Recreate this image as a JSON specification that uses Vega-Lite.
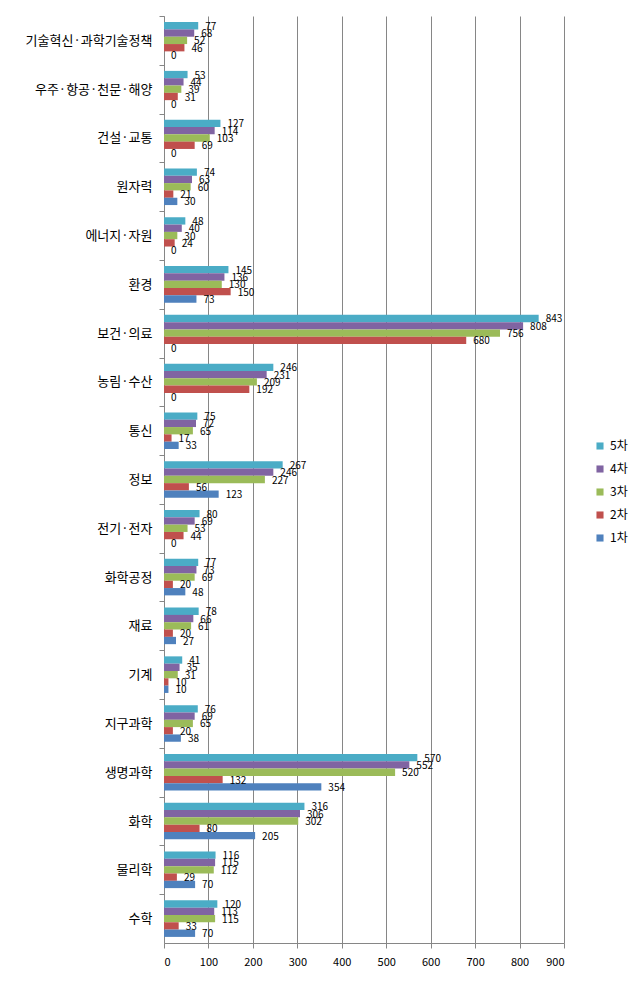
{
  "$schema": "https://vega.github.io/schema/vega-lite/v6.json",
  "width": 400,
  "height": 927,
  "autosize": {"type": "none"},
  "padding": {"left": 164, "top": 16, "right": 77, "bottom": 45},
  "background": "white",
  "config": {"view": {"stroke": null}, "font": "Noto Sans CJK KR"},
  "data": {"values": [
    {"c":"기술혁신·과학기술정책","s":"5차","v":77},{"c":"기술혁신·과학기술정책","s":"4차","v":68},{"c":"기술혁신·과학기술정책","s":"3차","v":52},{"c":"기술혁신·과학기술정책","s":"2차","v":46},{"c":"기술혁신·과학기술정책","s":"1차","v":0},
    {"c":"우주·항공·천문·해양","s":"5차","v":53},{"c":"우주·항공·천문·해양","s":"4차","v":44},{"c":"우주·항공·천문·해양","s":"3차","v":39},{"c":"우주·항공·천문·해양","s":"2차","v":31},{"c":"우주·항공·천문·해양","s":"1차","v":0},
    {"c":"건설·교통","s":"5차","v":127},{"c":"건설·교통","s":"4차","v":114},{"c":"건설·교통","s":"3차","v":103},{"c":"건설·교통","s":"2차","v":69},{"c":"건설·교통","s":"1차","v":0},
    {"c":"원자력","s":"5차","v":74},{"c":"원자력","s":"4차","v":63},{"c":"원자력","s":"3차","v":60},{"c":"원자력","s":"2차","v":21},{"c":"원자력","s":"1차","v":30},
    {"c":"에너지·자원","s":"5차","v":48},{"c":"에너지·자원","s":"4차","v":40},{"c":"에너지·자원","s":"3차","v":30},{"c":"에너지·자원","s":"2차","v":24},{"c":"에너지·자원","s":"1차","v":0},
    {"c":"환경","s":"5차","v":145},{"c":"환경","s":"4차","v":136},{"c":"환경","s":"3차","v":130},{"c":"환경","s":"2차","v":150},{"c":"환경","s":"1차","v":73},
    {"c":"보건·의료","s":"5차","v":843},{"c":"보건·의료","s":"4차","v":808},{"c":"보건·의료","s":"3차","v":756},{"c":"보건·의료","s":"2차","v":680},{"c":"보건·의료","s":"1차","v":0},
    {"c":"농림·수산","s":"5차","v":246},{"c":"농림·수산","s":"4차","v":231},{"c":"농림·수산","s":"3차","v":209},{"c":"농림·수산","s":"2차","v":192},{"c":"농림·수산","s":"1차","v":0},
    {"c":"통신","s":"5차","v":75},{"c":"통신","s":"4차","v":72},{"c":"통신","s":"3차","v":65},{"c":"통신","s":"2차","v":17},{"c":"통신","s":"1차","v":33},
    {"c":"정보","s":"5차","v":267},{"c":"정보","s":"4차","v":246},{"c":"정보","s":"3차","v":227},{"c":"정보","s":"2차","v":56},{"c":"정보","s":"1차","v":123},
    {"c":"전기·전자","s":"5차","v":80},{"c":"전기·전자","s":"4차","v":69},{"c":"전기·전자","s":"3차","v":53},{"c":"전기·전자","s":"2차","v":44},{"c":"전기·전자","s":"1차","v":0},
    {"c":"화학공정","s":"5차","v":77},{"c":"화학공정","s":"4차","v":73},{"c":"화학공정","s":"3차","v":69},{"c":"화학공정","s":"2차","v":20},{"c":"화학공정","s":"1차","v":48},
    {"c":"재료","s":"5차","v":78},{"c":"재료","s":"4차","v":66},{"c":"재료","s":"3차","v":61},{"c":"재료","s":"2차","v":20},{"c":"재료","s":"1차","v":27},
    {"c":"기계","s":"5차","v":41},{"c":"기계","s":"4차","v":35},{"c":"기계","s":"3차","v":31},{"c":"기계","s":"2차","v":10},{"c":"기계","s":"1차","v":10},
    {"c":"지구과학","s":"5차","v":76},{"c":"지구과학","s":"4차","v":69},{"c":"지구과학","s":"3차","v":65},{"c":"지구과학","s":"2차","v":20},{"c":"지구과학","s":"1차","v":38},
    {"c":"생명과학","s":"5차","v":570},{"c":"생명과학","s":"4차","v":552},{"c":"생명과학","s":"3차","v":520},{"c":"생명과학","s":"2차","v":132},{"c":"생명과학","s":"1차","v":354},
    {"c":"화학","s":"5차","v":316},{"c":"화학","s":"4차","v":306},{"c":"화학","s":"3차","v":302},{"c":"화학","s":"2차","v":80},{"c":"화학","s":"1차","v":205},
    {"c":"물리학","s":"5차","v":116},{"c":"물리학","s":"4차","v":115},{"c":"물리학","s":"3차","v":112},{"c":"물리학","s":"2차","v":29},{"c":"물리학","s":"1차","v":70},
    {"c":"수학","s":"5차","v":120},{"c":"수학","s":"4차","v":113},{"c":"수학","s":"3차","v":115},{"c":"수학","s":"2차","v":33},{"c":"수학","s":"1차","v":70}
  ]},
  "encoding": {
    "y": {
      "field": "c", "type": "nominal", "title": null,
      "sort": ["기술혁신·과학기술정책","우주·항공·천문·해양","건설·교통","원자력","에너지·자원","환경","보건·의료","농림·수산","통신","정보","전기·전자","화학공정","재료","기계","지구과학","생명과학","화학","물리학","수학"],
      "scale": {"paddingInner": 0.25, "paddingOuter": 0.125},
      "axis": {
        "domainColor": "#868686", "tickColor": "#868686", "tickSize": 5,
        "tickOffset": -24.4, "labelOffset": 24.4,
        "labelPadding": 7, "labelFontSize": 13, "labelColor": "#000000",
        "labelFont": "Noto Sans CJK KR", "grid": false, "labelLimit": 200
      }
    },
    "yOffset": {"field": "s", "type": "nominal", "sort": ["5차","4차","3차","2차","1차"]},
    "x": {
      "field": "v", "type": "quantitative", "title": null,
      "scale": {"domain": [0, 900]},
      "axis": {
        "values": [0,100,200,300,400,500,600,700,800,900],
        "domainColor": "#868686", "tickColor": "#868686", "tickSize": 5,
        "gridColor": "#868686", "gridWidth": 1,
        "labelPadding": 8, "labelFontSize": 11, "labelColor": "#000000",
        "labelFont": "Noto Sans CJK KR"
      }
    }
  },
  "layer": [
    {
      "mark": {"type": "bar"},
      "encoding": {
        "color": {
          "field": "s", "type": "nominal",
          "scale": {"domain": ["5차","4차","3차","2차","1차"], "range": ["#4BACC6","#8064A2","#9BBB59","#C0504D","#4F81BD"]},
          "legend": {
            "title": null, "orient": "none", "legendX": 430, "legendY": 424,
            "symbolType": "square", "symbolSize": 50, "symbolStrokeWidth": 0,
            "labelFontSize": 12, "labelColor": "#000000", "rowPadding": 11, "labelOffset": 4,
            "labelFont": "Noto Sans CJK KR"
          }
        }
      }
    },
    {
      "mark": {"type": "text", "align": "left", "baseline": "middle", "dx": 7, "dy": 1, "fontSize": 10, "color": "#000000", "font": "Noto Sans CJK KR"},
      "encoding": {"text": {"field": "v", "type": "quantitative"}}
    }
  ]
}
